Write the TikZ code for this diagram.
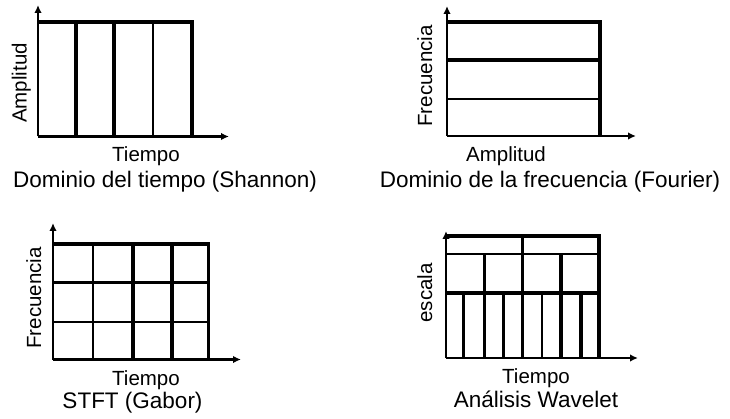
\documentclass[tikz,border=0pt]{standalone}
\usepackage{fontspec}
\setmainfont{Liberation Sans}
\usetikzlibrary{arrows.meta}

\begin{document}
\begin{tikzpicture}[x=1pt,y=-1pt,
  thick line/.style={line width=3.3pt},
  thin line/.style={line width=1.8pt},
  axis/.style={line width=2.8pt,-{Latex[length=8pt,width=7.5pt]}},
  axlabel/.style={font=\fontsize{20.5}{24}\selectfont,inner sep=0pt},
  caption/.style={font=\fontsize{22.5}{26}\selectfont,inner sep=0pt,anchor=base},
]
\useasboundingbox (0,0) rectangle (730,419);

% --- Time domain (Shannon) ---
\coordinate (o1) at (38,136.5);
\coordinate (y1) at (38,5);
\coordinate (x1) at (229,136.5);
\draw[thick line] (38,22) -- (192,22) -- (192,136.5);
\draw[thick line] (76,22) -- (76,136.5);
\draw[thick line] (114,22) -- (114,136.5);
\draw[thin line] (153.3,22) -- (153.3,136.5);
\draw[axis] (o1) -- (y1);
\draw[axis] (o1) -- (x1);
\node[axlabel,rotate=90,anchor=base] (l1y) at (26.5,83) {Amplitud};
\node[axlabel,anchor=base] (l1x) at (146,162) {Tiempo};
\node[caption] (c1) at (165,188) {Dominio del tiempo (Shannon)};

% --- Frequency domain (Fourier) ---
\coordinate (o2) at (447,136);
\coordinate (y2) at (447,6);
\coordinate (x2) at (636,136);
\draw[thick line] (447,22) -- (600,22) -- (600,136);
\draw[thick line] (447,60) -- (600,60);
\draw[thin line] (447,99) -- (600,99);
\draw[axis] (o2) -- (y2);
\draw[axis] (o2) -- (x2);
\node[axlabel,rotate=90,anchor=base] (l2y) at (432,76) {Frecuencia};
\node[axlabel,anchor=base] (l2x) at (506,162) {Amplitud};
\node[caption] (c2) at (550,188) {Dominio de la frecuencia (Fourier)};

% --- STFT (Gabor) ---
\coordinate (o3) at (53,359.5);
\coordinate (y3) at (53,223);
\coordinate (x3) at (241,359.5);
\draw[thick line] (53,244) -- (208.5,244) -- (208.5,359.5);
\draw[line width=2.4pt] (92.7,244) -- (92.7,359.5);
\draw[thick line] (133,244) -- (133,359.5);
\draw[thick line] (172,244) -- (172,359.5);
\draw[thick line] (53,282.3) -- (208.5,282.3);
\draw[thin line] (53,322) -- (208.5,322);
\draw[axis] (o3) -- (y3);
\draw[axis] (o3) -- (x3);
\node[axlabel,rotate=90,anchor=base] (l3y) at (41,298) {Frecuencia};
\node[axlabel,anchor=base] (l3x) at (146,385) {Tiempo};
\node[caption] (c3) at (132.5,408) {STFT (Gabor)};

% --- Wavelet analysis ---
\coordinate (o4) at (446,358);
\coordinate (y4) at (446,231);
\coordinate (x4) at (638,358);
\draw[thick line] (446,236) -- (599,236) -- (599,358);
\draw[thin line] (446,254) -- (599,254);
\draw[thick line] (446,293) -- (599,293);
\draw[thick line] (522.7,236) -- (522.7,358);
\foreach \xx in {484.3,561} \draw[thick line] (\xx,254) -- (\xx,358);
\foreach \xx in {463.3,503.3,581} \draw[thick line] (\xx,293) -- (\xx,358);
\draw[thin line] (542.3,293) -- (542.3,358);
\draw[axis] (o4) -- (y4);
\draw[axis] (o4) -- (x4);
\node[axlabel,rotate=90,anchor=base] (l4y) at (432,293) {escala};
\node[axlabel,anchor=base] (l4x) at (536,383) {Tiempo};
\node[caption] (c4) at (536,407) {Análisis Wavelet};
\end{tikzpicture}
\end{document}
